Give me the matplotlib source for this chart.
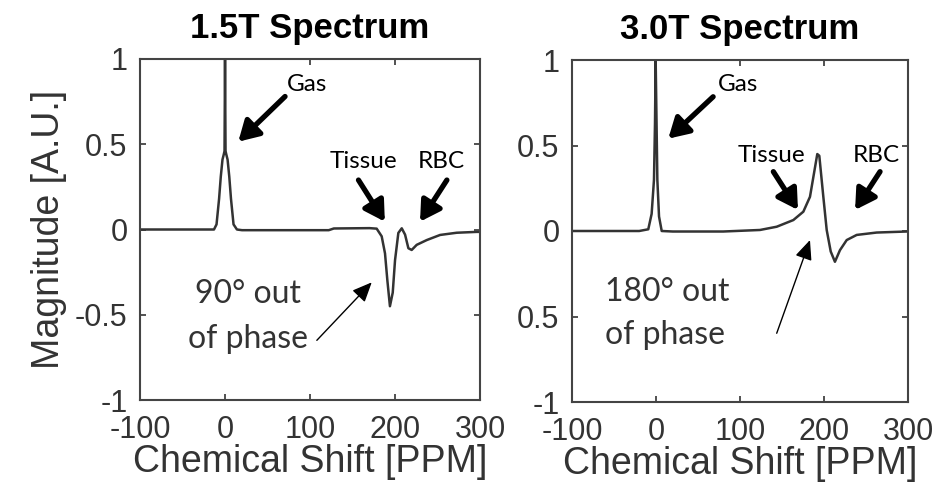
import matplotlib
matplotlib.use("Agg")
import matplotlib.pyplot as plt

# spectra (ppm, magnitude)
ppm_15 = [-100, -20, -13, -10, -7, -5, -3, -1.5, -0.6, 0, 0.6, 1.5, 3, 5, 7, 10, 14,
          20, 60, 122, 128, 170, 178.4, 184.3, 188.2, 191, 194, 197.3, 200, 203.9,
          207.9, 211.8, 215.7, 219.6, 225.5, 237.3, 253, 272.6, 296, 300]
mag_15 = [0.0, 0.0, 0.0, 0.03, 0.18, 0.31, 0.41, 0.44, 0.46, 1.0, 0.46, 0.44, 0.41,
          0.31, 0.18, 0.03, 0.0, -0.004, -0.004, -0.004, 0.006, 0.008, 0.005, -0.04,
          -0.14, -0.30, -0.45, -0.37, -0.18, -0.02, 0.007, -0.03, -0.11, -0.12,
          -0.09, -0.062, -0.032, -0.019, -0.014, -0.014]

ppm_30 = [-100, -20, -9.2, -5.2, -2.4, -1.2, -0.4, 1.6, 3.6, 6.8, 20, 80, 123.8,
          143.7, 163.5, 175.4, 183.3, 188, 192, 194.4, 199.2, 203.2, 208, 213, 219,
          227, 238.9, 262.7, 298.5, 300]
mag_30 = [0.0, 0.0, 0.01, 0.10, 0.30, 0.63, 1.0, 0.30, 0.085, 0.0, -0.003, -0.003,
          0.006, 0.025, 0.064, 0.113, 0.20, 0.335, 0.45, 0.44, 0.20, 0.006, -0.12,
          -0.18, -0.112, -0.053, -0.023, -0.009, -0.003, -0.003]

xticks = [-100, 0, 100, 200, 300]
yticks = [-1, -0.5, 0, 0.5, 1]
ylabels_15 = ["-1", "-0.5", "0", "0.5", "1"]
ylabels_30 = ["-1", "0.5", "0", "0.5", "1"]

ink = "#333333"
tick_font = "Liberation Sans"
note_font = "Lato"


def setup_axes(ax, title, ylabels, ylabel=None):
    ax.set_xlim(-100, 300)
    ax.set_ylim(-1, 1)
    ax.set_xticks(xticks)
    ax.set_xticklabels([str(t) for t in xticks])
    ax.set_yticks(yticks)
    ax.set_yticklabels(ylabels)
    ax.tick_params(direction="in", length=4, width=1.2, colors=ink,
                   top=True, right=True, labelsize=22)
    ax.tick_params(axis="x", pad=11)
    ax.tick_params(axis="y", pad=9)
    for lab in ax.get_xticklabels() + ax.get_yticklabels():
        lab.set_fontfamily(tick_font)
    for s in ax.spines.values():
        s.set_color("#444444")
        s.set_linewidth(1.5)
    ax.set_title(title, fontsize=25, fontweight="bold", fontfamily=tick_font, pad=15)
    ax.set_xlabel("Chemical Shift [PPM]", fontsize=27, fontfamily=tick_font, color=ink)
    ax.xaxis.set_label_coords(0.5, -0.13)
    if ylabel:
        ax.set_ylabel(ylabel, fontsize=27, fontfamily=tick_font, color=ink)
        ax.yaxis.set_label_coords(-0.215, 0.5)


def big_arrow(ax, xy, xytext):
    ax.annotate("", xy=xy, xytext=xytext,
                arrowprops=dict(arrowstyle="-|>,head_length=0.6,head_width=0.35",
                                color="black", lw=3.8, mutation_scale=20,
                                shrinkA=0, shrinkB=0))


def thin_arrow(ax, xy, xytext):
    ax.annotate("", xy=xy, xytext=xytext,
                arrowprops=dict(arrowstyle="-|>,head_length=0.8,head_width=0.35",
                                color="black", lw=1.0, mutation_scale=15,
                                shrinkA=0, shrinkB=0))


fig = plt.figure(figsize=(9.5, 5), dpi=100)
ax1 = fig.add_axes([0.1474, 0.2, 0.3579, 0.682])
ax2 = fig.add_axes([0.6021, 0.196, 0.3537, 0.684])

# 1.5T
ax1.plot(ppm_15, mag_15, color=ink, lw=1.8)
setup_axes(ax1, "1.5T Spectrum", ylabels_15, "Magnitude [A.U.]")
ax1.text(73, 0.85, "Gas", fontsize=17.5, fontfamily=note_font, va="center")
big_arrow(ax1, (15.6, 0.515), (70.6, 0.78))
ax1.text(163, 0.40, "Tissue", fontsize=17.5, fontfamily=note_font, ha="center", va="center")
ax1.text(255, 0.40, "RBC", fontsize=17.5, fontfamily=note_font, ha="center", va="center")
big_arrow(ax1, (188, 0.046), (157, 0.29))
big_arrow(ax1, (229.4, 0.046), (261, 0.29))
ax1.text(27.6, -0.38, "90\u00b0 out", fontsize=23, fontfamily=note_font, color=ink,
         ha="center", va="center")
ax1.text(27.6, -0.64, "of phase", fontsize=23, fontfamily=note_font, color=ink,
         ha="center", va="center")
thin_arrow(ax1, (172.6, -0.31), (108, -0.65))

# 3.0T
ax2.plot(ppm_30, mag_30, color=ink, lw=1.8)
setup_axes(ax2, "3.0T Spectrum", ylabels_30)
ax2.text(74, 0.854, "Gas", fontsize=17.5, fontfamily=note_font, va="center")
big_arrow(ax2, (14.6, 0.54), (68, 0.785))
ax2.text(137.5, 0.444, "Tissue", fontsize=17.5, fontfamily=note_font, ha="center", va="center")
ax2.text(262, 0.444, "RBC", fontsize=17.5, fontfamily=note_font, ha="center", va="center")
big_arrow(ax2, (169, 0.123), (139.7, 0.347))
big_arrow(ax2, (237, 0.123), (266.7, 0.347))
ax2.text(-60.5, -0.355, "180\u00b0 out", fontsize=23, fontfamily=note_font, color=ink,
         ha="left", va="center")
ax2.text(-60.5, -0.608, "of phase", fontsize=23, fontfamily=note_font, color=ink,
         ha="left", va="center")
thin_arrow(ax2, (183.3, -0.053), (143.7, -0.598))

fig.savefig("out.png", dpi=100, facecolor="white")
